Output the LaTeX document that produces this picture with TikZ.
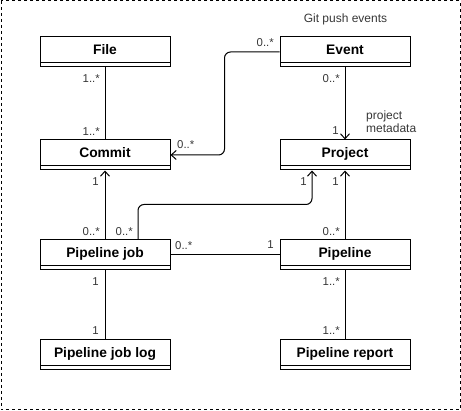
\documentclass[tikz,border=0pt]{standalone}
\usepackage{fontspec}
\setmainfont{Liberation Sans}
\usetikzlibrary{arrows.meta,calc}
\definecolor{lblgray}{RGB}{55,55,55}
\begin{document}
\begin{tikzpicture}[x=1pt,y=-1pt,
  umlbox/.style={draw, line width=1pt, minimum width=130pt, minimum height=30pt,
    inner sep=0pt, text height=10pt, text depth=4.1pt,
    font=\fontsize{13.8}{16}\selectfont\bfseries,
    path picture={\draw[line width=1pt] ([yshift=4pt]path picture bounding box.south west) -- ([yshift=4pt]path picture bounding box.south east);}},
  lbl/.style={inner sep=0pt, text=lblgray, font=\fontsize{11.4}{13}\selectfont},
  conn/.style={line width=1pt},
  arr/.style={line width=1pt, -{Straight Barb[length=5pt,width=9pt]}}]
\useasboundingbox (0,0) rectangle (461,411);
\draw[line width=1pt, dash pattern=on 3pt off 3pt] (1,1) rectangle (460,410);

\node[umlbox] (file) at (105,52) {File};
\node[umlbox] (commit) at (105,155) {Commit};
\node[umlbox] (event) at (345,52) {Event};
\node[umlbox] (project) at (345,155) {Project};
\node[umlbox] (pj) at (105,255) {Pipeline job};
\node[umlbox] (pipeline) at (345,255) {Pipeline};
\node[umlbox] (pjlog) at (105,355) {Pipeline job log};
\node[umlbox] (report) at (345,355) {Pipeline report};

\node[lbl, font=\fontsize{12}{14}\selectfont] (git) at (345.5,19) {Git push events};
\node[lbl, font=\fontsize{12}{14}\selectfont, anchor=west, align=left] (meta) at (366,122) {project\\[-1pt]metadata};

% File - Commit
\draw[conn] (file) -- (commit);
\node[lbl, anchor=mid east] (l1) at (100,80) {1..*};
\node[lbl, anchor=mid east] (l2) at (100,133) {1..*};

% Event -> Commit
\draw[arr, rounded corners=6pt] (event.west) -- ++(-55,0) |- (commit.east);
\node[lbl, anchor=mid east] (l3) at (274,44) {0..*};
\node[lbl, anchor=mid west] (l4) at (177,146) {0..*};

% Event -> Project
\draw[arr] (event) -- (project);
\node[lbl, anchor=mid east] (l5) at (340,80) {0..*};
\node[lbl, anchor=mid east] (l6) at (339,132) {1};

% Pipeline job -> Commit
\draw[arr] (pj) -- (commit);
\node[lbl, anchor=mid east] (l7) at (99,183) {1};
\node[lbl, anchor=mid east] (l8) at (100,233) {0..*};

% Pipeline job -> Project
\draw[arr, rounded corners=6pt] ([xshift=33pt]pj.north) -- ++(0,-35) -| ([xshift=-33pt]project.south);
\node[lbl, anchor=mid east] (l9) at (133,233) {0..*};
\node[lbl, anchor=mid east] (l10) at (307,183) {1};

% Pipeline -> Project
\draw[arr] (pipeline) -- (project);
\node[lbl, anchor=mid east] (l11) at (339,183) {1};
\node[lbl, anchor=mid east] (l12) at (340,233) {0..*};

% Pipeline job - Pipeline
\draw[conn] (pj) -- (pipeline);
\node[lbl, anchor=mid west] (l13) at (175,247) {0..*};
\node[lbl, anchor=mid east] (l14) at (274,246) {1};

% Pipeline job - log
\draw[conn] (pj) -- (pjlog);
\node[lbl, anchor=mid east] (l15) at (99,283) {1};
\node[lbl, anchor=mid east] (l16) at (99,332) {1};

% Pipeline - report
\draw[conn] (pipeline) -- (report);
\node[lbl, anchor=mid east] (l17) at (340,283) {1..*};
\node[lbl, anchor=mid east] (l18) at (340,332) {1..*};
\end{tikzpicture}
\end{document}
